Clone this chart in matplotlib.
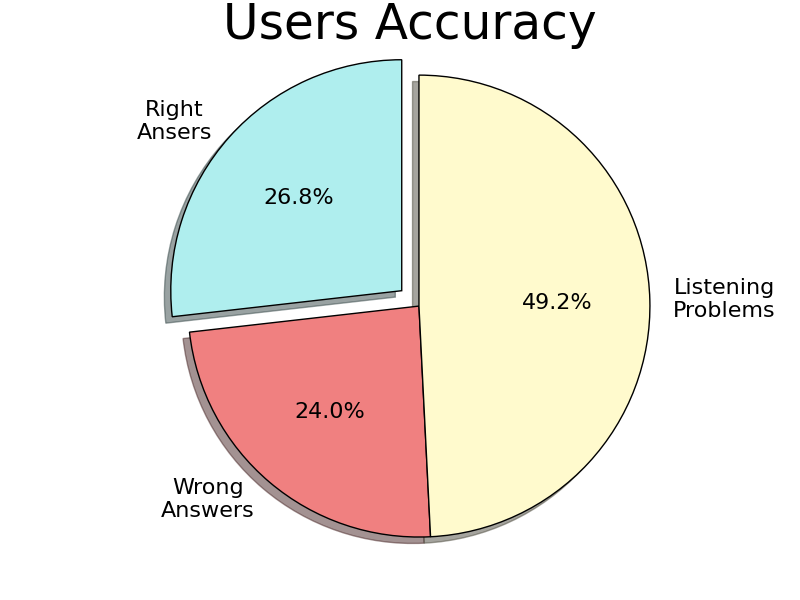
import matplotlib
matplotlib.use('Agg')
import matplotlib.pyplot as plt

labels = ['Right\nAnsers', 'Wrong\nAnswers', 'Listening\nProblems']
shares = [26.8, 24.0, 49.2]
colors = ['paleturquoise', 'lightcoral', 'lemonchiffon']
explode = [0.1, 0, 0]

fig = plt.figure(figsize=(8, 6), dpi=100)
ax = fig.add_axes([0.1483, 0.0472, 0.7508, 0.8711])
ax.pie(shares, labels=labels, colors=colors, explode=explode,
       autopct='%1.1f%%', shadow=True, startangle=90,
       wedgeprops={'edgecolor': 'black'},
       textprops={'fontsize': 16, 'multialignment': 'center'})
ax.set_title('Users Accuracy', fontsize=35, x=0.4852)
ax.set_xlim(-1.3, 1.3)
ax.set_ylim(-1.15, 1.113)
ax.set_aspect('equal')

plt.savefig('out.png')
